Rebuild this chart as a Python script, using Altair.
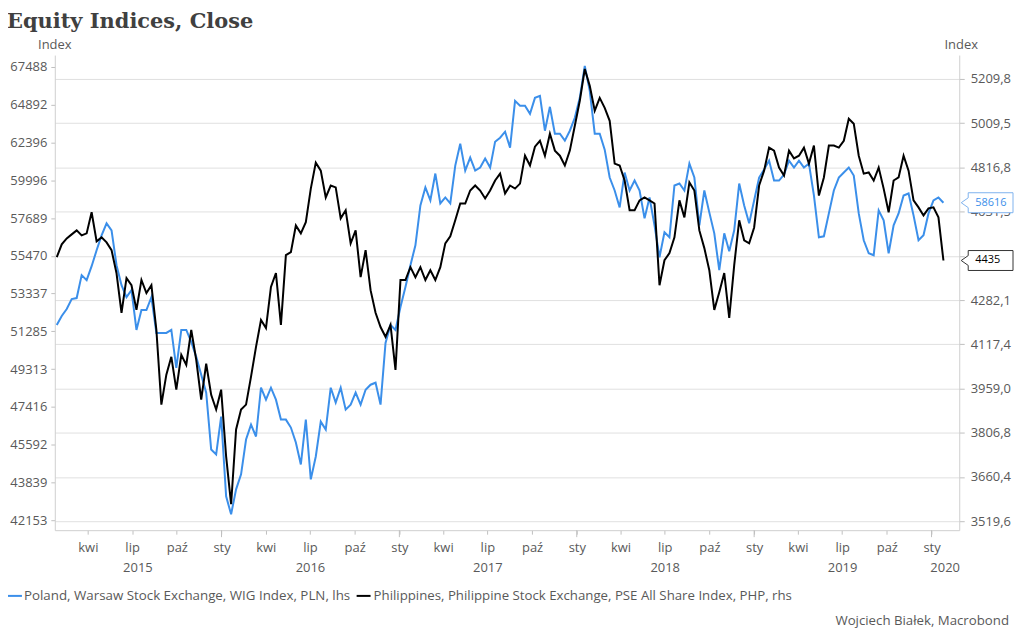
import altair as alt
import pandas as pd

# ---------------- data ----------------
wig = [51628, 52113, 52489, 53035, 53090, 54368, 54087, 54877, 55792, 56665,
       57373, 56959, 54934, 53808, 53144, 53531, 51362, 52435, 52435, 53144,
       51203, 51203, 51203, 51362, 49382, 51362, 51362, 50728, 49947, 49025,
       48121, 45365, 45131, 46940, 43212, 42413, 43527, 44207, 45837, 46554,
       45980, 48370, 47774, 48370, 47774, 46795, 46795, 46410, 45695, 44667,
       46795, 43979, 45036, 46698, 46314, 48370, 47626, 48370, 47282, 47527,
       48121, 47527, 48270, 48521, 48622, 47527, 50676, 51628, 51362, 52598,
       53698, 54934, 56081, 58451, 59550, 58754, 60419, 58572, 58937, 58572,
       60921, 62323, 60606, 61427, 60606, 60795, 61363, 60795, 62452, 62711,
       63101, 62066, 65157, 64822, 64822, 64287, 65360, 65496, 63166, 64755,
       62971, 62971, 62516, 63166, 64021, 65360, 67560, 65835, 62971, 62971,
       61937, 60169, 59365, 58330, 60481, 59365, 59982, 59365, 57670, 58937,
       57255, 55390, 56841, 56548, 59673, 59796, 59365, 61047, 60169, 57255,
       59365, 58030, 56783, 54650, 56783, 55734, 56959, 59796, 58451, 57373,
       58754, 60169, 60669, 61236, 59982, 59982, 60356, 61236, 60795, 61236,
       60795, 61047, 59059, 56548, 56606, 57969, 59365, 60169, 60481, 60795,
       60294, 57969, 56372, 55620, 55505, 58149, 57551, 55620, 57255, 57969,
       59059, 59181, 57850, 56372, 56665, 57969, 58754, 58937, 58616]

pse = [4448, 4499, 4523, 4539, 4555, 4535, 4543, 4629, 4511, 4527,
       4507, 4476, 4385, 4234, 4366, 4339, 4245, 4359, 4309, 4339,
       4170, 3903, 4008, 4072, 3955, 4079, 4043, 4170, 4061, 3920,
       4047, 3937, 3886, 3955, 3728, 3573, 3818, 3886, 3903, 4001,
       4108, 4207, 4177, 4332, 4386, 4189, 4456, 4468, 4575, 4543,
       4588, 4727, 4837, 4803, 4690, 4740, 4732, 4604, 4637, 4503,
       4555, 4370, 4476, 4320, 4234, 4181, 4145, 4189, 4025, 4359,
       4359, 4409, 4370, 4409, 4359, 4397, 4359, 4409, 4503, 4531,
       4596, 4665, 4665, 4719, 4740, 4719, 4686, 4719, 4761, 4790,
       4707, 4740, 4727, 4748, 4867, 4825, 4906, 4932, 4867, 4963,
       4889, 4867, 4825, 4889, 4998, 5110, 5256, 5178, 5065, 5123,
       5078, 5020, 4833, 4825, 4761, 4637, 4637, 4678, 4690, 4678,
       4665, 4339, 4436, 4464, 4527, 4678, 4608, 4753, 4719, 4555,
       4484, 4397, 4245, 4312, 4386, 4215, 4417, 4596, 4515, 4503,
       4567, 4740, 4803, 4902, 4889, 4816, 4782, 4889, 4855, 4867,
       4902, 4833, 4911, 4698, 4774, 4911, 4911, 4902, 4932, 5029,
       5007, 4867, 4790, 4795, 4761, 4816, 4727, 4629, 4761, 4774,
       4867, 4803, 4678, 4649, 4616, 4645, 4649, 4608, 4435]

wig_ticks = [42153, 43839, 45592, 47416, 49313, 51285, 53337, 55470,
             57689, 59996, 62396, 64892, 67488]
pse_ticks = [3519.6, 3660.4, 3806.8, 3959.0, 4117.4, 4282.1, 4453.4,
             4631.5, 4816.8, 5009.5, 5209.8]

quarter_ticks = [(2015, 4), (2015, 7), (2015, 10), (2016, 1), (2016, 4), (2016, 7),
                 (2016, 10), (2017, 1), (2017, 4), (2017, 7), (2017, 10), (2018, 1),
                 (2018, 4), (2018, 7), (2018, 10), (2019, 1), (2019, 4), (2019, 7),
                 (2019, 10), (2020, 1)]
year_ticks = ["2016-01-01T00:00:00", "2017-01-01T00:00:00", "2018-01-01T00:00:00",
              "2019-01-01T00:00:00", "2020-01-01T00:00:00"]
year_labels = ["2015", "2016", "2017", "2018", "2019", "2020"]
year_label_dates = ["2015-07-13T00:00:00", "2016-07-02T00:00:00", "2017-07-02T00:00:00",
                    "2018-07-02T00:00:00", "2019-07-02T00:00:00", "2020-01-29T00:00:00"]
month_names = ['sty', 'lut', 'mar', 'kwi', 'maj', 'cze', 'lip', 'sie', 'wrz', 'paź', 'lis', 'gru']

title_text = ["Equity Indices, Close"]
legend_texts = ["Poland, Warsaw Stock Exchange, WIG Index, PLN, lhs",
                "Philippines, Philippine Stock Exchange, PSE All Share Index, PHP, rhs"]
credit_text = ["Wojciech Białek, Macrobond"]

# ---------------- styling ----------------
W, H = 908, 477
FONT = "Open Sans"
GREY = "#595959"
BLUE = "#3b8fea"
BLACK = "#000000"
TICK = "#bfbfbf"
DOMAIN = "#d0d0d0"

dates = pd.date_range("2015-01-27", periods=len(wig), freq="246h")
df = pd.DataFrame({"date": dates, "wig": wig, "pse": pse})

x_dom = [alt.DateTime(year=2015, month=1, date=23), alt.DateTime(year=2020, month=2, date=27)]
month_expr = "[" + ",".join("'%s'" % m for m in month_names) + "][month(datum.value)]"
x_axis = alt.Axis(values=[alt.DateTime(year=y, month=m, date=1) for y, m in quarter_ticks],
                  labelExpr=month_expr, title=None, grid=False, tickSize=4,
                  tickColor=TICK, domainColor=DOMAIN, labelFont=FONT, labelFontSize=13,
                  labelColor=GREY, labelPadding=7, labelFlush=False, labelOverlap=False)
X = alt.X("date:T", scale=alt.Scale(domain=x_dom), axis=x_axis)

yl_scale = alt.Scale(type="log", domain=[41719, 68331], nice=False, zero=False)
yl_axis = alt.Axis(orient="left", values=wig_ticks, labelExpr="format(datum.value, 'd')",
                   title=None, grid=False, tickSize=4, tickColor=TICK, domainColor=DOMAIN,
                   labelFont=FONT, labelFontSize=13, labelColor=GREY, labelPadding=4,
                   labelOverlap=False, labelFlush=False)
yr_scale = alt.Scale(type="log", domain=[3491.7, 5321.4], nice=False, zero=False)
yr_axis = alt.Axis(orient="right", values=pse_ticks,
                   labelExpr="replace(format(datum.value, '.1f'), '.', ',')",
                   title=None, grid=True, gridColor="#e0e0e0", tickSize=5, tickColor=TICK,
                   domainColor=DOMAIN, labelFont=FONT, labelFontSize=13, labelColor=GREY,
                   labelPadding=6, labelOverlap=False, labelFlush=False)

BOX = "M -1 0 L -0.73 -0.19 L -0.73 -0.385 L 1 -0.385 L 1 0.385 L -0.73 0.385 L -0.73 0.19 Z"

call_blue = pd.DataFrame({"v": [wig[-1]], "label": [str(wig[-1])]})
call_black = pd.DataFrame({"v": [pse[-1]], "label": [str(pse[-1])]})

blue_line = alt.Chart(df).mark_line(color=BLUE, strokeWidth=2).encode(
    x=X, y=alt.Y("wig:Q", scale=yl_scale, axis=yl_axis))
blue_box = alt.Chart(call_blue).mark_point(shape=BOX, size=2704, filled=True, fill="white",
                                           stroke="#7fb2ee", strokeWidth=1, opacity=1).encode(
    x=alt.value(936), y=alt.Y("v:Q", scale=yl_scale, axis=yl_axis))
blue_txt = alt.Chart(call_blue).mark_text(align="left", baseline="middle", font=FONT,
                                          fontSize=11, color=BLUE).encode(
    x=alt.value(924), y=alt.Y("v:Q", scale=yl_scale, axis=yl_axis), text="label:N")
left = alt.layer(blue_line, blue_box, blue_txt)

black_line = alt.Chart(df).mark_line(color=BLACK, strokeWidth=2).encode(
    x=X, y=alt.Y("pse:Q", scale=yr_scale, axis=yr_axis))
black_box = alt.Chart(call_black).mark_point(shape=BOX, size=2704, filled=True, fill="white",
                                             stroke="#333333", strokeWidth=1, opacity=1).encode(
    x=alt.value(936), y=alt.Y("v:Q", scale=yr_scale, axis=yr_axis))
black_txt = alt.Chart(call_black).mark_text(align="left", baseline="middle", font=FONT,
                                            fontSize=11, color=BLACK).encode(
    x=alt.value(924), y=alt.Y("v:Q", scale=yr_scale, axis=yr_axis), text="label:N")
right = alt.layer(black_line, black_box, black_txt)

one = pd.DataFrame({"a": [0]})

title = alt.Chart(pd.DataFrame({"t": title_text})).mark_text(
    align="left", baseline="alphabetic", font="DejaVu Serif", fontWeight="bold",
    fontSize=21, color="#404040").encode(x=alt.value(-48), y=alt.value(-27), text="t:N")
idx_l = alt.Chart(pd.DataFrame({"t": ["Index"]})).mark_text(
    align="center", baseline="middle", font=FONT, fontSize=13, color=GREY).encode(
    x=alt.value(0), y=alt.value(-10), text="t:N")
idx_r = alt.Chart(pd.DataFrame({"t": ["Index"]})).mark_text(
    align="center", baseline="middle", font=FONT, fontSize=13, color=GREY).encode(
    x=alt.value(910), y=alt.value(-10), text="t:N")
years = alt.Chart(pd.DataFrame({"date": year_label_dates, "label": year_labels})).mark_text(
    align="center", baseline="middle", font=FONT, fontSize=13, color=GREY).encode(
    x=X, y=alt.value(515), text="label:N")
jan_ticks = alt.Chart(pd.DataFrame({"date": year_ticks})).mark_rule(color=TICK).encode(
    x=X, y=alt.value(H), y2=alt.value(H + 7))
leg_blue = alt.Chart(one).mark_rule(color=BLUE, strokeWidth=2).encode(
    x=alt.value(-47), x2=alt.value(-33), y=alt.value(543))
leg_black = alt.Chart(one).mark_rule(color=BLACK, strokeWidth=2).encode(
    x=alt.value(303), x2=alt.value(317), y=alt.value(543))
leg_t1 = alt.Chart(pd.DataFrame({"t": [legend_texts[0]]})).mark_text(
    align="left", baseline="middle", font=FONT, fontSize=13.4, color=GREY).encode(
    x=alt.value(-31), y=alt.value(543), text="t:N")
leg_t2 = alt.Chart(pd.DataFrame({"t": [legend_texts[1]]})).mark_text(
    align="left", baseline="middle", font=FONT, fontSize=13.3, color=GREY).encode(
    x=alt.value(320), y=alt.value(543), text="t:N")
credit = alt.Chart(pd.DataFrame({"t": credit_text})).mark_text(
    align="right", baseline="middle", font=FONT, fontSize=13.3, color=GREY).encode(
    x=alt.value(958), y=alt.value(568), text="t:N")

chart = alt.layer(
    left, right, title, idx_l, idx_r, years, jan_ticks,
    leg_blue, leg_black, leg_t1, leg_t2, credit
).resolve_scale(y="independent").properties(
    width=W, height=H,
    autosize=alt.AutoSizeParams(type="none"),
    padding={"left": 47, "top": 46, "right": 57, "bottom": 99},
    background="white",
).configure_view(stroke=None)

chart.save("out.html", embed_options={"renderer": "svg", "actions": False})
